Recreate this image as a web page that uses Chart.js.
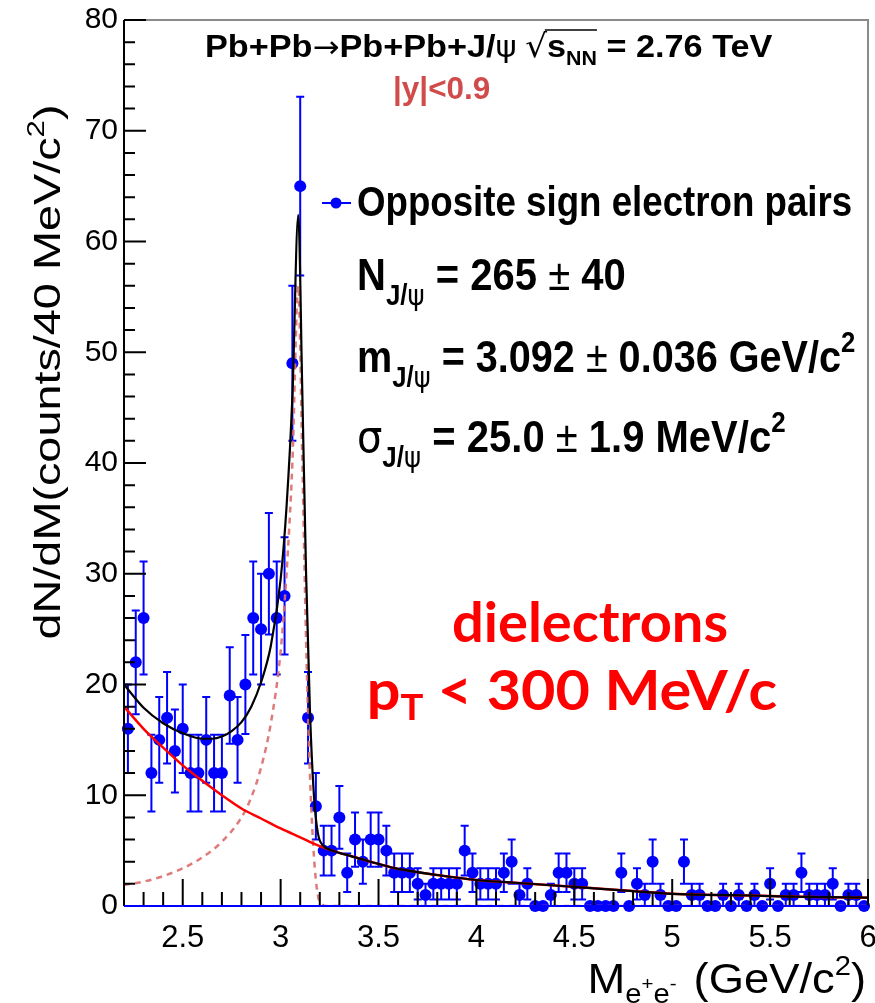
<!DOCTYPE html>
<html>
<head>
<meta charset="utf-8">
<script src="https://cdn.jsdelivr.net/npm/chart.js@4.4.0/dist/chart.umd.min.js"></script>
<style>
  html, body { margin: 0; padding: 0; background: #ffffff; }
  #wrap { width: 875px; height: 1003px; position: relative; }
</style>
</head>
<body>
<div id="wrap"><canvas id="jpsiChart" width="875" height="1003"></canvas></div>
<script>
// Dielectron invariant mass, 40 MeV/c^2 bins (bin centres, GeV/c^2)
const massBins = [
  2.22, 2.26, 2.30, 2.34, 2.38, 2.42, 2.46, 2.50, 2.54, 2.58,
  2.62, 2.66, 2.70, 2.74, 2.78, 2.82, 2.86, 2.90, 2.94, 2.98,
  3.02, 3.06, 3.10, 3.14, 3.18, 3.22, 3.26, 3.30, 3.34, 3.38,
  3.42, 3.46, 3.50, 3.54, 3.58, 3.62, 3.66, 3.70, 3.74, 3.78,
  3.82, 3.86, 3.90, 3.94, 3.98, 4.02, 4.06, 4.10, 4.14, 4.18,
  4.22, 4.26, 4.30, 4.34, 4.38, 4.42, 4.46, 4.50, 4.54, 4.58,
  4.62, 4.66, 4.70, 4.74, 4.78, 4.82, 4.86, 4.90, 4.94, 4.98,
  5.02, 5.06, 5.10, 5.14, 5.18, 5.22, 5.26, 5.30, 5.34, 5.38,
  5.42, 5.46, 5.50, 5.54, 5.58, 5.62, 5.66, 5.70, 5.74, 5.78,
  5.82, 5.86, 5.90, 5.94, 5.98
];
const counts = [
  16, 22, 26, 12, 15, 17, 14, 16, 12, 12,
  15, 12, 12, 19, 15, 20, 26, 25, 30, 26,
  28, 49, 65, 17, 9, 5, 5, 8, 3, 6,
  4, 6, 6, 5, 3, 3, 3, 2, 1, 2,
  2, 2, 2, 5, 3, 2, 2, 2, 3, 4,
  1, 2, 0, 0, 1, 3, 3, 2, 2, 0,
  0, 0, 0, 3, 0, 2, 1, 4, 1, 0,
  0, 4, 1, 1, 0, 0, 1, 0, 1, 0,
  1, 0, 2, 0, 1, 1, 3, 1, 1, 1,
  2, 0, 1, 1, 0
];

// Fit curves
const fitMass = [2.2, 2.3, 2.4, 2.5, 2.6, 2.65, 2.7, 2.75, 2.8, 2.85, 2.9, 2.95, 3.0, 3.03, 3.06, 3.09,
  3.11, 3.13, 3.15, 3.17, 3.19, 3.22, 3.25, 3.3, 3.4, 3.5, 3.6, 3.8, 4.0, 4.2, 4.4, 4.6, 4.8, 5.0,
  5.2, 5.4, 5.6, 5.8, 6.0];
const fitTotal = [20.0, 17.9, 16.5, 15.6, 15.1, 15.1, 15.3, 15.8, 16.6, 18.0, 20.2, 23.5, 29.5, 36, 46, 62.4,
  47, 30, 17.5, 10, 6.6, 5.4, 5.1, 4.8, 4.3, 3.8, 3.35, 2.8, 2.35, 2.1, 1.85, 1.6, 1.35, 1.1,
  1.0, 0.95, 0.85, 0.8, 0.75];

const bkgMass = [2.2, 2.3, 2.4, 2.5, 2.6, 2.7, 2.8, 2.9, 3.0, 3.1, 3.2, 3.3, 3.4, 3.5, 3.6, 3.8, 4.0,
  4.2, 4.4, 4.6, 4.8, 5.0, 5.2, 5.4, 5.6, 5.8, 6.0];
const bkgValues = [18.0, 16.0, 14.3, 12.7, 11.3, 10.0, 8.8, 7.9, 7.0, 6.2, 5.4, 4.8, 4.3, 3.8, 3.35, 2.8, 2.35,
  2.1, 1.85, 1.6, 1.35, 1.1, 1.0, 0.95, 0.85, 0.8, 0.75];

const sigMass = [2.2, 2.3, 2.4, 2.5, 2.6, 2.7, 2.8, 2.85, 2.9, 2.95, 3.0, 3.03, 3.06, 3.09, 3.11, 3.13,
  3.15, 3.17, 3.19, 3.21, 3.23, 3.3, 4.0, 5.0, 6.0];
const sigValues = [1.9, 2.2, 2.7, 3.4, 4.4, 5.8, 8.0, 9.8, 12.5, 16.5, 23, 30, 40, 56, 41, 24,
  11.7, 4.5, 1.0, 0.2, 0, 0, 0, 0, 0];

const xTicks = [2.5, 3, 3.5, 4, 4.5, 5, 5.5, 6];
const yTicks = [0, 10, 20, 30, 40, 50, 60, 70, 80];

const SANS = '"Liberation Sans", Arial, Helvetica, sans-serif';

function toPoints(xs, ys) {
  return xs.map((x, i) => ({ x: x, y: ys[i] }));
}

// draw a run of text pieces (for sub/superscripts)
function drawRich(ctx, x, y, segs, opt) {
  opt = opt || {};
  ctx.save();
  ctx.translate(x, y);
  if (opt.rotate) ctx.rotate(opt.rotate);
  ctx.scale(opt.sx || 1, opt.sy || 1);
  let w = 0;
  segs.forEach(s => { ctx.font = s.font; w += ctx.measureText(s.text).width + (s.gap || 0); });
  let cx = opt.align === 'center' ? -w / 2 : (opt.align === 'right' ? -w : 0);
  ctx.textAlign = 'left';
  ctx.textBaseline = 'alphabetic';
  const pos = [];
  segs.forEach(s => {
    ctx.font = s.font;
    ctx.fillStyle = s.color || opt.color || '#000';
    ctx.fillText(s.text, cx, s.dy || 0);
    const tw = ctx.measureText(s.text).width;
    pos.push({ x0: cx, x1: cx + tw });
    cx += tw + (s.gap || 0);
  });
  if (opt.after) opt.after(ctx, pos);
  ctx.restore();
}

const errorBars = {
  id: 'errorBars',
  beforeDatasetsDraw(chart) {
    const ctx = chart.ctx;
    const xs = chart.scales.x, ys = chart.scales.y;
    ctx.save();
    ctx.strokeStyle = '#0000ff';
    ctx.lineWidth = 2;
    massBins.forEach((m, i) => {
      const n = counts[i];
      if (n <= 0) return;
      const e = Math.sqrt(n);
      const px = xs.getPixelForValue(m);
      const yTop = ys.getPixelForValue(n + e);
      const yBot = ys.getPixelForValue(n - e);
      ctx.beginPath();
      ctx.moveTo(px, yTop); ctx.lineTo(px, yBot);
      ctx.moveTo(px - 4, yTop); ctx.lineTo(px + 4, yTop);
      ctx.moveTo(px - 4, yBot); ctx.lineTo(px + 4, yBot);
      ctx.stroke();
    });
    ctx.restore();
  }
};

const frameAndText = {
  id: 'frameAndText',
  afterDatasetsDraw(chart) {
    const ctx = chart.ctx;
    const a = chart.chartArea;
    const xs = chart.scales.x, ys = chart.scales.y;
    ctx.save();
    // frame
    ctx.strokeStyle = '#8a8a8a';
    ctx.lineWidth = 2;
    ctx.beginPath();
    ctx.moveTo(a.left, a.top); ctx.lineTo(a.right, a.top); ctx.lineTo(a.right, a.bottom);
    ctx.stroke();
    ctx.strokeStyle = '#000';
    ctx.beginPath();
    ctx.moveTo(a.left, a.top); ctx.lineTo(a.left, a.bottom);
    ctx.stroke();
    // x ticks (inside, from the bottom)
    ctx.lineWidth = 2;
    ctx.beginPath();
    for (let k = 22; k <= 60; k++) {
      const px = xs.getPixelForValue(k / 10);
      const len = (k % 5 === 0) ? 27 : 14;
      ctx.moveTo(px, a.bottom); ctx.lineTo(px, a.bottom - len);
    }
    // y ticks (inside, from the left)
    for (let v = 0; v <= 80; v += 2) {
      const py = ys.getPixelForValue(v);
      const len = (v % 10 === 0) ? 22 : 11;
      ctx.moveTo(a.left, py); ctx.lineTo(a.left + len, py);
    }
    ctx.stroke();
    // zero line
    ctx.strokeStyle = '#0000ff';
    ctx.beginPath();
    ctx.moveTo(a.left, a.bottom); ctx.lineTo(a.right, a.bottom);
    ctx.stroke();
    ctx.restore();

    const B = 'bold ';
    // title
    drawRich(ctx, 205, 57, [
      { text: 'Pb+Pb', font: B + '32px ' + SANS },
      { text: '\u2192', font: '30px "DejaVu Sans"' },
      { text: 'Pb+Pb+J/', font: B + '32px ' + SANS },
      { text: '\u03c8', font: '30px "DejaVu Sans"', gap: 8 },
      { text: '\u221a', font: '32px "DejaVu Sans"' },
      { text: 's', font: B + '32px ' + SANS },
      { text: 'NN', font: B + '20px ' + SANS, dy: 8 },
      { text: ' = 2.76 TeV', font: B + '32px ' + SANS }
    ], {
      sx: 1.07,
      after: (c, pos) => {
        c.strokeStyle = '#000'; c.lineWidth = 1.5;
        c.beginPath(); c.moveTo(pos[4].x1 - 2, -27); c.lineTo(pos[6].x1, -27); c.stroke();
      }
    });
    drawRich(ctx, 393, 99, [{ text: '|y|<0.9', font: B + '30px ' + SANS, color: '#d24b4b' }], { sx: 1.05, sy: 1.05 });

    // legend entry
    ctx.save();
    ctx.strokeStyle = '#0000ff'; ctx.lineWidth = 2; ctx.fillStyle = '#0000ff';
    ctx.beginPath(); ctx.moveTo(322, 203); ctx.lineTo(351, 203); ctx.stroke();
    ctx.beginPath(); ctx.arc(336, 203, 5.5, 0, Math.PI * 2); ctx.fill();
    ctx.restore();
    drawRich(ctx, 357, 216, [{ text: 'Opposite sign electron pairs', font: B + '38px ' + SANS }], { sx: 0.965, sy: 1.1 });

    const big = B + '40px ' + SANS, sub = B + '26px ' + SANS, greek = '26px "DejaVu Sans"';
    const pm = '40px ' + SANS;
    drawRich(ctx, 357, 290, [
      { text: 'N', font: big },
      { text: 'J/', font: sub, dy: 14 },
      { text: '\u03c8', font: greek, dy: 14 },
      { text: ' = 265 ', font: big },
      { text: '\u00b1', font: pm },
      { text: ' 40', font: big }
    ], { sx: 1.0, sy: 1.1 });
    drawRich(ctx, 357, 372, [
      { text: 'm', font: big },
      { text: 'J/', font: sub, dy: 14 },
      { text: '\u03c8', font: greek, dy: 14 },
      { text: ' = 3.092 ', font: big },
      { text: '\u00b1', font: pm },
      { text: ' 0.036 GeV/c', font: big },
      { text: '2', font: sub, dy: -18 }
    ], { sx: 0.99, sy: 1.1 });
    drawRich(ctx, 357, 452, [
      { text: '\u03c3', font: '40px "DejaVu Sans"' },
      { text: 'J/', font: sub, dy: 14 },
      { text: '\u03c8', font: greek, dy: 14 },
      { text: ' = 25.0 ', font: big },
      { text: '\u00b1', font: pm },
      { text: ' 1.9 MeV/c', font: big },
      { text: '2', font: sub, dy: -18 }
    ], { sx: 1.0, sy: 1.1 });

    // red annotation
    const LATO = 'bold 56px Lato, "Open Sans", sans-serif';
    drawRich(ctx, 590, 642, [{ text: 'dielectrons', font: LATO, color: '#ff0000' }], { align: 'center' });
    drawRich(ctx, 572, 710, [
      { text: 'p', font: LATO, color: '#ff0000' },
      { text: 'T', font: 'bold 36px Lato, "Open Sans", sans-serif', color: '#ff0000', dy: 10 },
      { text: ' < 300 MeV/c', font: LATO, color: '#ff0000' }
    ], { align: 'center', sx: 1.06 });

    // axis titles
    const axf = '42px ' + SANS, axs = '27px ' + SANS, axss = '19px ' + SANS;
    drawRich(ctx, 866, 993, [
      { text: 'M', font: axf },
      { text: 'e', font: axs, dy: 10 },
      { text: '+', font: axss, dy: -3 },
      { text: 'e', font: axs, dy: 10 },
      { text: '-', font: axss, dy: -3, gap: 4 },
      { text: ' (GeV/c', font: axf },
      { text: '2', font: axs, dy: -18 },
      { text: ')', font: axf }
    ], { align: 'right', sx: 1.08 });
    drawRich(ctx, 60, 372, [
      { text: 'dN/dM(counts/40 MeV/c', font: '36px ' + SANS },
      { text: '2', font: '24px ' + SANS, dy: -16 },
      { text: ')', font: '36px ' + SANS }
    ], { align: 'center', rotate: -Math.PI / 2, sx: 1.3 });
  }
};

new Chart(document.getElementById('jpsiChart').getContext('2d'), {
  type: 'scatter',
  data: {
    datasets: [{
      type: 'line',
      data: toPoints(fitMass, fitTotal),
      borderColor: '#000000',
      borderWidth: 2.2,
      pointRadius: 0,
      cubicInterpolationMode: 'monotone',
      order: 1
    }, {
      type: 'line',
      data: toPoints(bkgMass, bkgValues),
      borderColor: '#ff0000',
      borderWidth: 2.5,
      pointRadius: 0,
      cubicInterpolationMode: 'monotone',
      order: 2
    }, {
      type: 'line',
      data: toPoints(sigMass, sigValues),
      borderColor: 'rgba(218, 110, 110, 0.9)',
      borderWidth: 2.5,
      borderDash: [6, 5],
      pointRadius: 0,
      cubicInterpolationMode: 'monotone',
      order: 3
    }, {
      type: 'scatter',
      data: toPoints(massBins, counts),
      backgroundColor: '#0000ff',
      borderWidth: 0,
      pointRadius: 6,
      clip: false,
      order: 10
    }]
  },
  options: {
    responsive: false,
    animation: false,
    layout: { padding: { top: 20, right: 7, left: 0, bottom: 0 } },
    plugins: {
      legend: { display: false },
      tooltip: { enabled: false }
    },
    scales: {
      x: {
        type: 'linear',
        min: 2.2,
        max: 6,
        grid: { display: false, drawTicks: false },
        border: { display: false },
        afterBuildTicks: scale => { scale.ticks = xTicks.map(v => ({ value: v })); },
        afterFit: scale => {
          scale.height = 97;
          scale.paddingLeft = 0;
          scale.paddingRight = 0;
        },
        ticks: {
          color: '#000',
          padding: 14,
          maxRotation: 0,
          font: { family: SANS, size: 31 },
          callback: v => String(v)
        }
      },
      y: {
        min: 0,
        max: 80,
        grid: { display: false, drawTicks: false },
        border: { display: false },
        afterBuildTicks: scale => { scale.ticks = yTicks.map(v => ({ value: v })); },
        afterFit: scale => {
          scale.width = 124;
          scale.paddingTop = 0;
          scale.paddingBottom = 0;
        },
        ticks: {
          color: '#000',
          padding: 6,
          font: { family: SANS, size: 30 },
          callback: v => String(v)
        }
      }
    }
  },
  plugins: [errorBars, frameAndText]
});
</script>
</body>
</html>
